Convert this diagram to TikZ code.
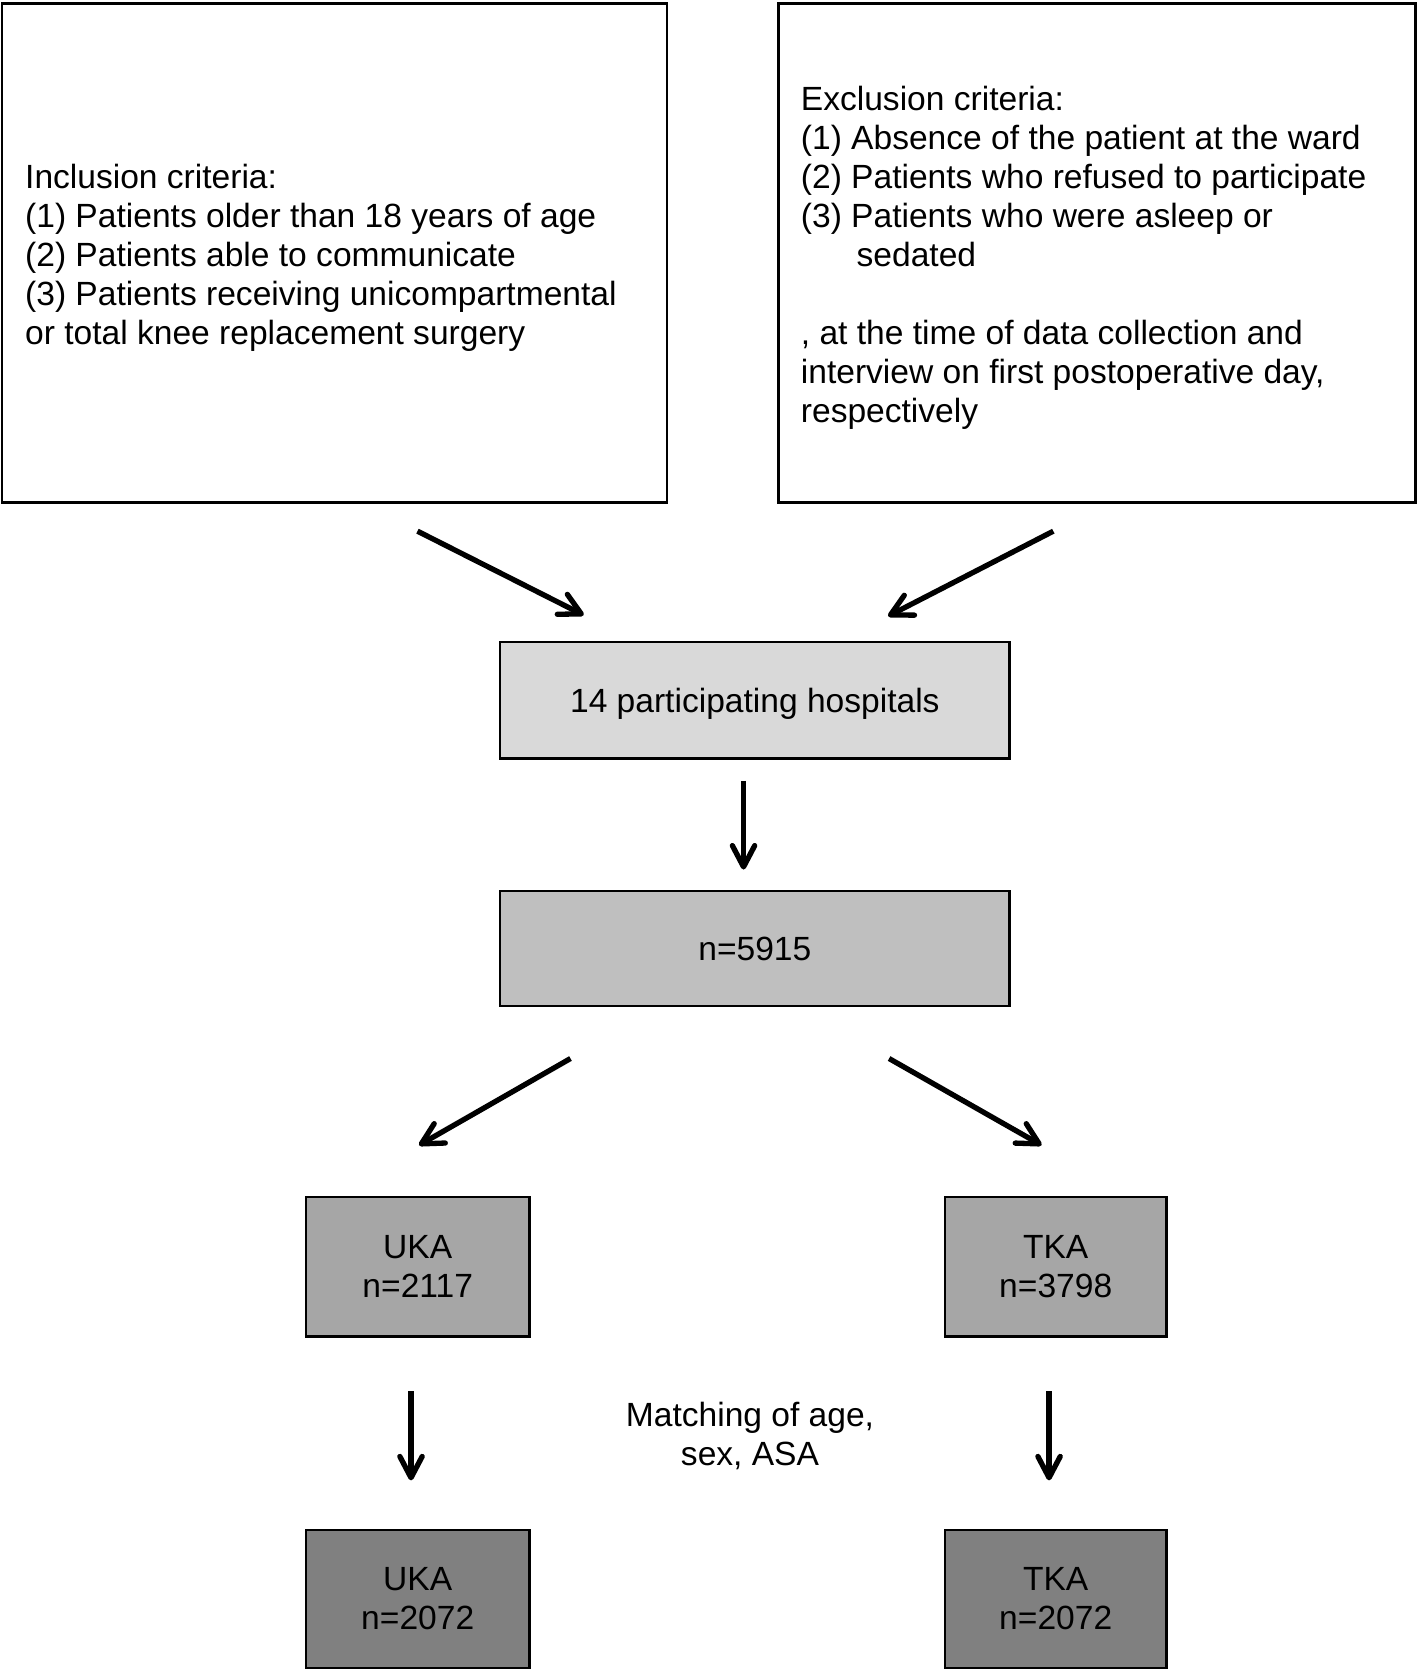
\documentclass[tikz,border=0pt]{standalone}
\usepackage{fontspec}
\setmainfont{Liberation Sans}
\usetikzlibrary{arrows.meta}
\begin{document}
\begin{tikzpicture}[x=0.5pt,y=-0.5pt,
  every node/.style={font=\fontsize{15.8pt}{18.35pt}\selectfont},
  critbox/.style={draw=black,line width=1.2pt,fill=white,minimum height=235pt,inner sep=0pt},
  flowbox/.style={draw=black,line width=1.1pt,inner sep=0pt,align=center},
  onebox/.style={flowbox,text height=11pt,text depth=0pt},
  txt/.style={inner sep=0pt,align=left},
  arr/.style={line width=2.5pt,-{Straight Barb[length=10pt,width=10.5pt,round]}}
]
\useasboundingbox (0,0) rectangle (1335.7,1572);
% top criteria boxes
\node[critbox,minimum width=312.9pt] (incl) at (314.8,238.2) {};
\node[critbox,minimum width=299.9pt] (excl) at (1032.7,238.2) {};
\node[txt,anchor=north west] (incltxt) at (23.3,153.8) {Inclusion criteria:\\
(1) Patients older than 18 years of age\\
(2) Patients able to communicate\\
(3) Patients receiving unicompartmental\\
or total knee replacement surgery};
\node[txt,anchor=north west] (excltxt) at (753.5,81) {Exclusion criteria:\\
(1) Absence of the patient at the ward\\
(2) Patients who refused to participate\\
(3) Patients who were asleep or\\
\hspace*{26.25pt}sedated\\[18.35pt]
, at the time of data collection and\\
interview on first postoperative day,\\
respectively};
% flow boxes
\node[onebox,fill=black!15,minimum width=239.85pt,minimum height=54.75pt] (hosp) at (710.55,659.25) {14 participating hospitals};
\node[onebox,fill=black!25,minimum width=239.85pt,minimum height=54.25pt] (total) at (710.55,892.75) {n=5915};
\node[flowbox,fill=black!35,minimum width=105.2pt,minimum height=65.5pt] (uka1) at (393.2,1192.5) {UKA\\n=2117};
\node[flowbox,fill=black!35,minimum width=104.35pt,minimum height=65.5pt] (tka1) at (993.75,1192.5) {TKA\\n=3798};
\node[flowbox,fill=black!50,minimum width=105.2pt,minimum height=65pt] (uka2) at (393.2,1505) {UKA\\n=2072};
\node[flowbox,fill=black!50,minimum width=104.35pt,minimum height=65pt] (tka2) at (993.75,1505) {TKA\\n=2072};
\node[inner sep=0pt,align=center,anchor=north] (match) at (706,1319.1) {Matching of age,\\sex, ASA};
% arrow end points
\coordinate (a1s) at (393,500);   \coordinate (a1e) at (549.4,579);
\coordinate (a2s) at (991.5,500); \coordinate (a2e) at (836,580);
\coordinate (a3s) at (699.9,735); \coordinate (a3e) at (699.9,818.5);
\coordinate (a4s) at (537,996.4); \coordinate (a4e) at (394.4,1078);
\coordinate (a5s) at (836.9,996.4); \coordinate (a5e) at (980.4,1078);
\coordinate (a6s) at (386.9,1309.4); \coordinate (a6e) at (386.9,1393.5);
\coordinate (a7s) at (987.5,1309.4); \coordinate (a7e) at (987.5,1393.5);
\draw[arr] (a1s) -- (a1e);
\draw[arr] (a2s) -- (a2e);
\draw[arr] (a3s) -- (a3e);
\draw[arr] (a4s) -- (a4e);
\draw[arr] (a5s) -- (a5e);
\draw[arr] (a6s) -- (a6e);
\draw[arr] (a7s) -- (a7e);
\end{tikzpicture}
\end{document}
